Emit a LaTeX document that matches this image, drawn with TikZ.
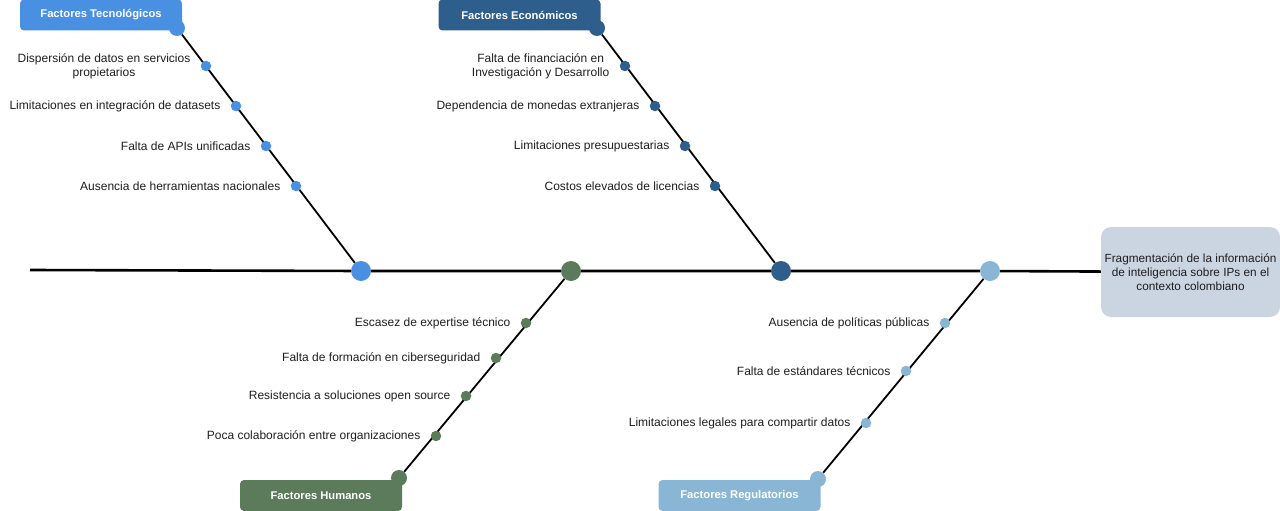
\documentclass[tikz,border=0pt]{standalone}
\usepackage{fontspec}
\setmainfont{Liberation Sans}
\usetikzlibrary{positioning}
\definecolor{tecblue}{HTML}{4A90E2}
\definecolor{ecoblue}{HTML}{2E5E8C}
\definecolor{humgreen}{HTML}{5B7B5B}
\definecolor{regblue}{HTML}{8AB6D6}
\definecolor{effgray}{HTML}{CBD5E1}
\definecolor{txtgray}{HTML}{1E1E1E}

\begin{document}
\begin{tikzpicture}[x=1pt,y=-1pt,
    hub/.style={circle,fill=#1,minimum size=20pt,inner sep=0pt},
    tip/.style={circle,fill=#1,minimum size=16pt,inner sep=0pt},
    dot/.style={circle,fill=#1,minimum size=10.5pt,inner sep=0pt},
    cause/.style={text=txtgray,font=\fontsize{12}{14}\selectfont,align=center,inner sep=2pt},
    title/.style={fill=#1,rounded corners=4pt,text=white,font=\bfseries\fontsize{11.2}{13}\selectfont,
      minimum width=162pt,minimum height=31pt,inner sep=0pt},
    effect/.style={fill=effgray,rounded corners=10pt,text=txtgray,font=\fontsize{11.8}{14}\selectfont,
      align=center,minimum width=179pt,minimum height=90pt,inner sep=0pt},
    spine/.style={line width=2.6pt},
    bone/.style={line width=1.8pt}
  ]
  \useasboundingbox (0,0) rectangle (1280,511);
  \coordinate (tail) at (30,270);
  \node[effect] (eff) at (1190.5,272) {Fragmentación de la información\\de inteligencia sobre IPs en el\\contexto colombiano};
  % categories
  \node[title=tecblue] (tect) at (101,15) {Factores Tecnológicos};
  \node[title=ecoblue] (ecot) at (519.5,15) {Factores Económicos};
  \node[title=humgreen] (humt) at (321,495.5) {Factores Humanos};
  \node[title=regblue] (regt) at (739.5,495.5) {Factores Regulatorios};
  \node[tip=tecblue] (tecend) at (177,28) {};
  \node[tip=ecoblue] (ecoend) at (597,28) {};
  \node[tip=humgreen] (humend) at (399,478) {};
  \node[tip=regblue] (regend) at (818,479) {};
  \node[hub=tecblue] (tec) at (361,271) {};
  \node[hub=humgreen] (hum) at (571,271) {};
  \node[hub=ecoblue] (eco) at (781,271) {};
  \node[hub=regblue] (reg) at (990,271) {};
  \draw[spine] (tail) -- (tec) -- (hum) -- (eco) -- (reg) -- (eff);
  \draw[bone] (tec) -- (tecend);
  \draw[bone] (eco) -- (ecoend);
  \draw[bone] (hum) -- (humend);
  \draw[bone] (reg) -- (regend);
  % causes
  \foreach \x/\y/\t [count=\i] in {206/66/{Dispersión de datos en servicios\\propietarios},
      236/106/{Limitaciones en integración de datasets}, 266/146/{Falta de APIs unificadas},
      296/186/{Ausencia de herramientas nacionales}} {
    \node[dot=tecblue] (tec\i) at (\x,\y) {};
    \node[cause, left=8pt of tec\i] (tecl\i) {\t};
  }
  \foreach \x/\y/\t [count=\i] in {625/66/{Falta de financiación en\\Investigación y Desarrollo},
      655/106/{Dependencia de monedas extranjeras}, 685/146/{Limitaciones presupuestarias},
      715/186/{Costos elevados de licencias}} {
    \node[dot=ecoblue] (eco\i) at (\x,\y) {};
    \node[cause, left=8pt of eco\i] (ecol\i) {\t};
  }
  \foreach \x/\y/\t [count=\i] in {526/323/{Escasez de expertise técnico},
      496/358/{Falta de formación en ciberseguridad}, 466/396/{Resistencia a soluciones open source},
      436/436/{Poca colaboración entre organizaciones}} {
    \node[dot=humgreen] (hum\i) at (\x,\y) {};
    \node[cause, left=8pt of hum\i] (huml\i) {\t};
  }
  \foreach \x/\y/\t [count=\i] in {945/323/{Ausencia de políticas públicas},
      906/371/{Falta de estándares técnicos}, 866/423/{Limitaciones legales para compartir datos}} {
    \node[dot=regblue] (reg\i) at (\x,\y) {};
    \node[cause, left=8pt of reg\i] (regl\i) {\t};
  }
\end{tikzpicture}
\end{document}
